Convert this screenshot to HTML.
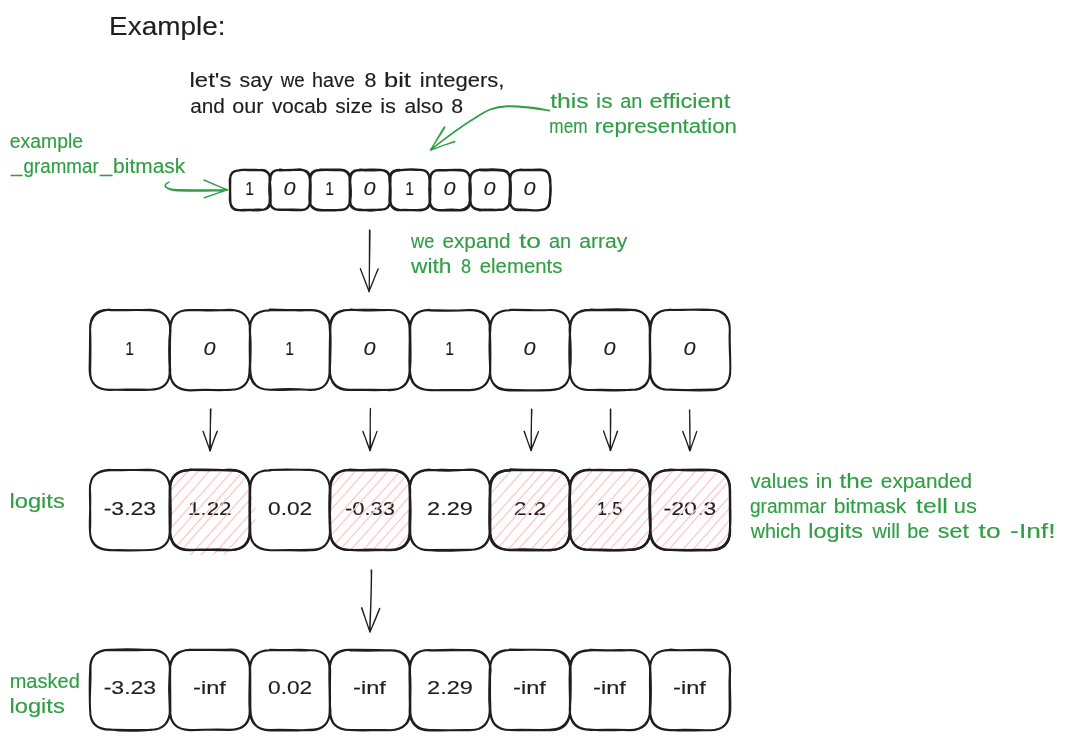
<!DOCTYPE html>
<html><head><meta charset="utf-8"><title>Example</title>
<style>
html,body{margin:0;padding:0;background:#fff;}
body{width:1065px;height:740px;overflow:hidden;}
svg{display:block;will-change:transform;}
text{font-family:"Liberation Sans",sans-serif;stroke-width:0.15px;stroke-linejoin:round;}
</style></head><body>
<svg width="1065" height="740" viewBox="0 0 1065 740">
<rect width="1065" height="740" fill="#ffffff"/>
<defs>
<clipPath id="c1"><path d="M190 470 L230 470 Q250 470 250 490 L250 496 Q255.5 498 255.5 502 L255.5 520 Q255.5 526 250 528 L250 530 Q250 550 230 550 L236 550 Q234 555 230 555 L190 555 Q186 555 184 550 L190 550 Q170 550 170 530 L170 490 Q170 470 190 470 Z"/></clipPath>
<clipPath id="c3"><path d="M350 470 L390 470 Q410 470 410 490 L410 496 Q410 498 410 502 L410 520 Q410 526 410 528 L410 530 Q410 550 390 550 L396 550 Q394 550 390 550 L350 550 Q346 550 344 550 L350 550 Q330 550 330 530 L330 490 Q330 470 350 470 Z"/></clipPath>
<clipPath id="c5"><path d="M510 470 L550 470 Q570 470 570 490 L570 496 Q570 498 570 502 L570 520 Q570 526 570 528 L570 530 Q570 550 550 550 L556 550 Q554 550 550 550 L510 550 Q506 550 504 550 L510 550 Q490 550 490 530 L490 490 Q490 470 510 470 Z"/></clipPath>
<clipPath id="c6"><path d="M590 470 L630 470 Q650 470 650 490 L650 496 Q650 498 650 502 L650 520 Q650 526 650 528 L650 530 Q650 550 630 550 L636 550 Q634 550 630 550 L590 550 Q586 550 584 550 L590 550 Q570 550 570 530 L570 490 Q570 470 590 470 Z"/></clipPath>
<clipPath id="c7"><path d="M670 470 L710 470 Q730 470 730 490 L730 496 Q730 498 730 502 L730 520 Q730 526 730 528 L730 530 Q730 550 710 550 L716 550 Q714 550 710 550 L670 550 Q666 550 664 550 L670 550 Q650 550 650 530 L650 490 Q650 470 670 470 Z"/></clipPath>
</defs>
<text x="109.07" y="35.3" font-size="25.5" fill="#1e1e1e" stroke="#1e1e1e" textLength="116.40" lengthAdjust="spacingAndGlyphs">Example:</text>
<text font-size="19.5" fill="#1e1e1e" stroke="#1e1e1e"><tspan x="189.54" y="87.1" textLength="41.84" lengthAdjust="spacingAndGlyphs">let's</tspan> <tspan x="239.57" y="87.1" textLength="32.95" lengthAdjust="spacingAndGlyphs">say</tspan> <tspan x="280.80" y="87.1" textLength="23.91" lengthAdjust="spacingAndGlyphs">we</tspan> <tspan x="312.12" y="87.1" textLength="42.74" lengthAdjust="spacingAndGlyphs">have</tspan> <tspan x="364.54" y="87.1" textLength="11.94" lengthAdjust="spacingAndGlyphs">8</tspan> <tspan x="384.04" y="87.1" textLength="26.91" lengthAdjust="spacingAndGlyphs">bit</tspan> <tspan x="419.87" y="87.1" textLength="84.52" lengthAdjust="spacingAndGlyphs">integers,</tspan></text>
<text font-size="19.5" fill="#1e1e1e" stroke="#1e1e1e"><tspan x="190.27" y="112.7" textLength="34.65" lengthAdjust="spacingAndGlyphs">and</tspan> <tspan x="232.34" y="112.7" textLength="31.19" lengthAdjust="spacingAndGlyphs">our</tspan> <tspan x="271.90" y="112.7" textLength="55.30" lengthAdjust="spacingAndGlyphs">vocab</tspan> <tspan x="335.38" y="112.7" textLength="37.13" lengthAdjust="spacingAndGlyphs">size</tspan> <tspan x="380.28" y="112.7" textLength="15.72" lengthAdjust="spacingAndGlyphs">is</tspan> <tspan x="404.46" y="112.7" textLength="38.68" lengthAdjust="spacingAndGlyphs">also</tspan> <tspan x="451.35" y="112.7" textLength="11.83" lengthAdjust="spacingAndGlyphs">8</tspan></text>
<text font-size="19.5" fill="#2f9e44" stroke="#2f9e44"><tspan x="550.23" y="107.7" textLength="38.46" lengthAdjust="spacingAndGlyphs">this</tspan> <tspan x="596.12" y="107.7" textLength="16.42" lengthAdjust="spacingAndGlyphs">is</tspan> <tspan x="620.30" y="107.7" textLength="22.14" lengthAdjust="spacingAndGlyphs">an</tspan> <tspan x="649.56" y="107.7" textLength="80.63" lengthAdjust="spacingAndGlyphs">efficient</tspan></text>
<text font-size="19.5" fill="#2f9e44" stroke="#2f9e44"><tspan x="549.36" y="133" textLength="38.13" lengthAdjust="spacingAndGlyphs">mem</tspan> <tspan x="594.65" y="133" textLength="142.35" lengthAdjust="spacingAndGlyphs">representation</tspan></text>
<text x="9.82" y="147.5" font-size="19.5" fill="#2f9e44" stroke="#2f9e44" textLength="73.25" lengthAdjust="spacingAndGlyphs">example</text>
<text font-size="19.5" fill="#2f9e44" stroke="#2f9e44"><tspan x="10.91" y="172.3" textLength="11.31" lengthAdjust="spacingAndGlyphs">_</tspan><tspan x="23.55" y="173.4" textLength="75.15" lengthAdjust="spacingAndGlyphs">grammar</tspan><tspan x="100.13" y="172.3" textLength="12.26" lengthAdjust="spacingAndGlyphs">_</tspan><tspan x="113.14" y="173.4" textLength="72.07" lengthAdjust="spacingAndGlyphs">bitmask</tspan></text>
<text font-size="19.5" fill="#2f9e44" stroke="#2f9e44"><tspan x="411.00" y="248" textLength="23.29" lengthAdjust="spacingAndGlyphs">we</tspan> <tspan x="442.47" y="248" textLength="67.99" lengthAdjust="spacingAndGlyphs">expand</tspan> <tspan x="518.99" y="248" textLength="21.95" lengthAdjust="spacingAndGlyphs">to</tspan> <tspan x="549.00" y="248" textLength="22.14" lengthAdjust="spacingAndGlyphs">an</tspan> <tspan x="579.26" y="248" textLength="48.11" lengthAdjust="spacingAndGlyphs">array</tspan></text>
<text font-size="19.5" fill="#2f9e44" stroke="#2f9e44"><tspan x="411.00" y="272.8" textLength="40.44" lengthAdjust="spacingAndGlyphs">with</tspan> <tspan x="461.08" y="272.8" textLength="10.07" lengthAdjust="spacingAndGlyphs">8</tspan> <tspan x="479.78" y="272.8" textLength="82.68" lengthAdjust="spacingAndGlyphs">elements</tspan></text>
<text x="9.46" y="507.8" font-size="19.5" fill="#2f9e44" stroke="#2f9e44" textLength="55.36" lengthAdjust="spacingAndGlyphs">logits</text>
<text font-size="19.5" fill="#2f9e44" stroke="#2f9e44"><tspan x="750.60" y="487.9" textLength="57.91" lengthAdjust="spacingAndGlyphs">values</tspan> <tspan x="815.72" y="487.9" textLength="16.52" lengthAdjust="spacingAndGlyphs">in</tspan> <tspan x="839.64" y="487.9" textLength="33.74" lengthAdjust="spacingAndGlyphs">the</tspan> <tspan x="880.87" y="487.9" textLength="91.24" lengthAdjust="spacingAndGlyphs">expanded</tspan></text>
<text font-size="19.5" fill="#2f9e44" stroke="#2f9e44"><tspan x="749.94" y="512.9" textLength="76.36" lengthAdjust="spacingAndGlyphs">grammar</tspan> <tspan x="833.73" y="512.9" textLength="72.47" lengthAdjust="spacingAndGlyphs">bitmask</tspan> <tspan x="916.13" y="512.9" textLength="31.66" lengthAdjust="spacingAndGlyphs">tell</tspan> <tspan x="953.88" y="512.9" textLength="23.00" lengthAdjust="spacingAndGlyphs">us</tspan></text>
<text font-size="19.5" fill="#2f9e44" stroke="#2f9e44"><tspan x="750.70" y="538.2" textLength="50.31" lengthAdjust="spacingAndGlyphs">which</tspan> <tspan x="808.38" y="538.2" textLength="54.63" lengthAdjust="spacingAndGlyphs">logits</tspan> <tspan x="872.40" y="538.2" textLength="27.67" lengthAdjust="spacingAndGlyphs">will</tspan> <tspan x="907.31" y="538.2" textLength="22.02" lengthAdjust="spacingAndGlyphs">be</tspan> <tspan x="937.82" y="538.2" textLength="31.09" lengthAdjust="spacingAndGlyphs">set</tspan> <tspan x="978.64" y="538.2" textLength="21.95" lengthAdjust="spacingAndGlyphs">to</tspan> <tspan x="1010.14" y="538.2" textLength="45.35" lengthAdjust="spacingAndGlyphs">-Inf!</tspan></text>
<text x="9.70" y="687.6" font-size="19.5" fill="#2f9e44" stroke="#2f9e44" textLength="70.13" lengthAdjust="spacingAndGlyphs">masked</text>
<text x="9.46" y="712.8" font-size="19.5" fill="#2f9e44" stroke="#2f9e44" textLength="55.36" lengthAdjust="spacingAndGlyphs">logits</text>
<text x="245.13" y="194.6" font-size="19.0" fill="#1e1e1e" stroke="#1e1e1e" textLength="8.69" lengthAdjust="spacingAndGlyphs">1</text>
<text x="283.64" y="194.6" font-size="19.0" fill="#1e1e1e" stroke="#1e1e1e" font-style="italic" textLength="12.00" lengthAdjust="spacingAndGlyphs">0</text>
<text x="325.13" y="194.6" font-size="19.0" fill="#1e1e1e" stroke="#1e1e1e" textLength="8.69" lengthAdjust="spacingAndGlyphs">1</text>
<text x="363.64" y="194.6" font-size="19.0" fill="#1e1e1e" stroke="#1e1e1e" font-style="italic" textLength="12.00" lengthAdjust="spacingAndGlyphs">0</text>
<text x="405.13" y="194.6" font-size="19.0" fill="#1e1e1e" stroke="#1e1e1e" textLength="8.69" lengthAdjust="spacingAndGlyphs">1</text>
<text x="443.64" y="194.6" font-size="19.0" fill="#1e1e1e" stroke="#1e1e1e" font-style="italic" textLength="12.00" lengthAdjust="spacingAndGlyphs">0</text>
<text x="483.64" y="194.6" font-size="19.0" fill="#1e1e1e" stroke="#1e1e1e" font-style="italic" textLength="12.00" lengthAdjust="spacingAndGlyphs">0</text>
<text x="523.64" y="194.6" font-size="19.0" fill="#1e1e1e" stroke="#1e1e1e" font-style="italic" textLength="12.00" lengthAdjust="spacingAndGlyphs">0</text>
<text x="125.13" y="355" font-size="19.0" fill="#1e1e1e" stroke="#1e1e1e" textLength="8.69" lengthAdjust="spacingAndGlyphs">1</text>
<text x="203.64" y="355" font-size="19.0" fill="#1e1e1e" stroke="#1e1e1e" font-style="italic" textLength="12.00" lengthAdjust="spacingAndGlyphs">0</text>
<text x="285.13" y="355" font-size="19.0" fill="#1e1e1e" stroke="#1e1e1e" textLength="8.69" lengthAdjust="spacingAndGlyphs">1</text>
<text x="363.64" y="355" font-size="19.0" fill="#1e1e1e" stroke="#1e1e1e" font-style="italic" textLength="12.00" lengthAdjust="spacingAndGlyphs">0</text>
<text x="445.13" y="355" font-size="19.0" fill="#1e1e1e" stroke="#1e1e1e" textLength="8.69" lengthAdjust="spacingAndGlyphs">1</text>
<text x="523.64" y="355" font-size="19.0" fill="#1e1e1e" stroke="#1e1e1e" font-style="italic" textLength="12.00" lengthAdjust="spacingAndGlyphs">0</text>
<text x="603.64" y="355" font-size="19.0" fill="#1e1e1e" stroke="#1e1e1e" font-style="italic" textLength="12.00" lengthAdjust="spacingAndGlyphs">0</text>
<text x="683.64" y="355" font-size="19.0" fill="#1e1e1e" stroke="#1e1e1e" font-style="italic" textLength="12.00" lengthAdjust="spacingAndGlyphs">0</text>
<text x="103.71" y="514.8" font-size="19.0" fill="#1e1e1e" stroke="#1e1e1e" textLength="52.44" lengthAdjust="spacingAndGlyphs">-3.23</text>
<text x="188.08" y="514.8" font-size="19.0" fill="#1e1e1e" stroke="#1e1e1e" textLength="43.31" lengthAdjust="spacingAndGlyphs">1.22</text>
<text x="268.04" y="514.8" font-size="19.0" fill="#1e1e1e" stroke="#1e1e1e" textLength="44.17" lengthAdjust="spacingAndGlyphs">0.02</text>
<text x="345.02" y="514.8" font-size="19.0" fill="#1e1e1e" stroke="#1e1e1e" textLength="49.84" lengthAdjust="spacingAndGlyphs">-0.33</text>
<text x="427.07" y="514.8" font-size="19.0" fill="#1e1e1e" stroke="#1e1e1e" textLength="45.76" lengthAdjust="spacingAndGlyphs">2.29</text>
<text x="513.84" y="514.8" font-size="19.0" fill="#1e1e1e" stroke="#1e1e1e" textLength="32.33" lengthAdjust="spacingAndGlyphs">2.2</text>
<text x="596.76" y="514.8" font-size="19.0" fill="#1e1e1e" stroke="#1e1e1e" textLength="25.84" lengthAdjust="spacingAndGlyphs">1.5</text>
<text x="663.56" y="514.8" font-size="19.0" fill="#1e1e1e" stroke="#1e1e1e" textLength="52.75" lengthAdjust="spacingAndGlyphs">-20.3</text>
<text x="103.71" y="694.4" font-size="19.0" fill="#1e1e1e" stroke="#1e1e1e" textLength="52.44" lengthAdjust="spacingAndGlyphs">-3.23</text>
<text x="193.04" y="694.4" font-size="19.0" fill="#1e1e1e" stroke="#1e1e1e" textLength="32.84" lengthAdjust="spacingAndGlyphs">-inf</text>
<text x="268.04" y="694.4" font-size="19.0" fill="#1e1e1e" stroke="#1e1e1e" textLength="44.17" lengthAdjust="spacingAndGlyphs">0.02</text>
<text x="353.04" y="694.4" font-size="19.0" fill="#1e1e1e" stroke="#1e1e1e" textLength="32.84" lengthAdjust="spacingAndGlyphs">-inf</text>
<text x="427.07" y="694.4" font-size="19.0" fill="#1e1e1e" stroke="#1e1e1e" textLength="45.76" lengthAdjust="spacingAndGlyphs">2.29</text>
<text x="513.04" y="694.4" font-size="19.0" fill="#1e1e1e" stroke="#1e1e1e" textLength="32.84" lengthAdjust="spacingAndGlyphs">-inf</text>
<text x="593.04" y="694.4" font-size="19.0" fill="#1e1e1e" stroke="#1e1e1e" textLength="32.84" lengthAdjust="spacingAndGlyphs">-inf</text>
<text x="673.04" y="694.4" font-size="19.0" fill="#1e1e1e" stroke="#1e1e1e" textLength="32.84" lengthAdjust="spacingAndGlyphs">-inf</text>
<path d="M-89 570.8C-47.1 522.7 -4.2 476.1 85.2 373.6M-78.2 571.7C-26.3 509.8 28.5 449 96.7 372.3M-65.4 570.1C-8.2 504.9 49.7 438.8 109 374.5M-55.1 570.9C-3.4 514.1 46.3 455 119.2 372.3M-45.3 571.2C6.6 513.1 58.3 457 129.2 373.3M-32.4 570C19.6 508.5 74.8 448.8 140.3 372.6M-22.3 570C19.9 521.8 63.8 473.6 153 373.9M-12.2 571.5C42.2 511.4 95.1 450.4 163.1 372.5M-1.1 569.8C57.3 506 113.5 441.8 173.1 373.1M10.1 570C45.5 529.6 80.7 490.3 186.6 373.3M21.4 570C75.3 512.1 125.1 455.5 196.2 372.6M33.9 571.5C88.2 509.1 141.3 448 207.9 373.5M44.8 571.7C107.4 501.7 169.4 431.4 217.9 373.5M54.9 570C104.3 519.2 151 465.7 231 374.5M65.2 569.9C114.5 518.3 162.7 463.5 240.8 374.1M77.8 571.2C114.5 526.2 153.1 483.8 252.2 374.6M89 569.8C136.5 513.8 187 460.3 262 374.2M99.8 569.7C167.2 493.9 237.9 414.8 275.2 373.3M109.9 570.1C174.4 497.6 239.7 423.4 284 374.4M122.4 570.4C169.7 517 216 463.7 294.7 373.3M132.1 570.5C175.9 523.4 216.2 476.7 307.4 374.1M142.7 571.2C181.7 527.6 220.9 484.9 317.6 373.7M154.8 570.7C207.3 511.9 260.4 452.3 330.4 372.8M164.7 569.7C218.8 507.3 272.7 445.9 340.4 374.1M176.9 569.7C244.4 496.4 309 421.6 350.7 373.4M187.4 570.6C255.8 492.1 325.1 414.9 360.8 373.6M199 570.6C249 515.3 301 458.5 372.2 372.9M209.2 570.4C246.7 530.8 281.4 488.2 385.5 373.6M221.2 570.4C280 505.5 340.6 438.1 394.1 374.3M231.7 570.7C269.4 528.1 304.7 486.6 405.8 372.5M242.7 570.1C285.3 524.9 325.2 478.8 417.2 372.3M254.1 569.8C298.7 521.8 341.4 472.2 428.3 373.4M265.6 571.7C329 499 393.9 426.2 439.4 373.1M276.5 570C312.7 528.9 351.1 489.2 450.7 372.9M286.1 570.4C330.2 522.8 375.2 472.8 460.7 374.5" fill="none" stroke="#ffc9c9" stroke-width="1.3" stroke-linecap="round" clip-path="url(#c1)"/>
<path d="M68.9 571.4C121.6 510.7 174.9 450.2 242 372.3M80.1 570.7C119.4 527 159.1 482 252.5 374.1M90.5 569.5C151.6 501 211 432.1 265.1 372.7M101.1 570.5C161.4 502.6 221.9 433.7 274.8 372.6M112.7 569.4C154.6 521 199.8 472.6 287.4 372.9M122.7 571.5C175.9 512 230.5 449.9 297.9 374.2M133.7 571.6C202.5 493.7 271 415.9 309.9 372.5M146.2 569.9C210.1 498 271.5 425 320.1 373.3M155.9 571.4C201.5 520.2 248.9 467.3 331.8 373.9M167.4 571.8C234.7 495.5 300.6 420.3 341 372.5M177.9 570C243.1 496.6 306.8 426.1 353.9 374.2M189.9 571.1C244.7 505.9 302.5 441.6 364.6 372.9M200.5 570.2C235.7 530.6 273.9 488.1 375.4 372.9M210.8 569.9C267.2 509.9 319.9 449.4 387.3 373.3M222.5 569.6C262.8 525.9 303.3 482.5 397.9 373.2M233.5 569.5C282.6 516.2 331.6 459.3 408.6 374.3M245 570.4C289.2 524 331.5 474.1 418.5 373.9M255 570.3C323.4 496.4 389.4 422 430 372.5M268.5 571.1C308 525.3 347.8 479.3 440.7 374.1M277.9 569.7C319.8 522 363.9 472.1 451.8 373.5M289.7 569.4C344.5 508.6 401.3 446.7 464.8 373.4M301.1 570.1C343.2 520.9 387.8 472 474.5 373.8M311 570.4C379.6 494.9 447 420.3 485.8 372.7M321.7 569.9C392.2 491.7 461.3 414.5 496 372.8M333 570.3C382.2 514.9 431.5 456.8 507.2 373.2M345.5 571.6C409.2 494.5 476.9 421 517.6 373.8M355 569.4C403.7 516.2 453.4 461.3 531.3 372.7M366.6 569.5C413.3 516.1 461.7 462.2 540.9 374.4M378.1 569.5C412.5 528.3 450.5 488.1 552.4 374.4M389.3 570C436.8 516.4 482.4 462.8 564.1 374.4M399.5 570.5C457.2 508.2 512.8 442.1 574.4 373.4M411.5 571.4C479.6 494.2 545.8 417.5 585.1 374.1M421.5 569.5C459.3 527.6 497.7 486.1 597.4 374.6M433.2 571.1C478.2 520.9 522.2 472 608.1 374M444.6 570.1C508 498.2 572.8 425 617.6 372.8" fill="none" stroke="#ffc9c9" stroke-width="1.3" stroke-linecap="round" clip-path="url(#c3)"/>
<path d="M224.7 569.9C265.7 522.5 309.3 474.7 398.3 372.7M234.9 570.3C298.5 501 360 429.1 410.8 373.2M246.2 570.7C291.6 518.8 337.6 469.6 420.8 372.7M258.5 570.4C319.3 503.2 379.8 435.2 431.2 372.3M267.7 570.9C322.1 508.6 375.7 446.8 443.1 374.4M281.2 569.9C317.9 527.3 358.7 482.5 453.5 374.4M291.6 569.8C339 514.9 386.5 461.7 466.1 372.7M301.4 569.7C343.8 523 387.9 473.4 476.3 374M313.4 570.7C348.9 530 384.6 489.7 487.4 373.8M324.4 570.6C374.1 515.2 425.9 457.4 497.8 373.4M334.4 570.4C374.9 526 413.8 482.4 510.4 374.1M345.5 571.7C398.7 511.8 453.5 451.9 521 372.7M358.1 569.8C427 492.5 494.4 413 532.2 372.6M367.6 570.6C436.1 494.4 500.7 420.4 542.4 372.3M379.9 571.5C420.7 523.7 461.8 476.5 554.2 373.1M391.5 569.6C457 496.9 520.9 423.4 564.4 374.6M400.9 569.8C457 506.7 512.2 445 575.8 374.6M411 569.5C466.3 508.7 522.3 445.9 587.6 372.5M422 570.2C464.7 522.8 507.8 475 597.8 372.7M435.3 570C490.1 506.3 548 444.2 609.4 373.2M446 570.2C491.5 520.3 536.3 471.1 619.7 374.4M456 569.5C493.7 528.4 529.5 489.5 630.2 372.7M468.7 569.8C523.6 506.4 579 444.4 643 373.9M478.5 571.2C512.8 529.7 547 490.1 651.9 373M490.5 570C550.7 500.7 612.3 431.9 663.9 373.8M499.6 570C569.3 492.9 639.6 415.4 674.8 374.3M512 571C559 518.5 604.9 465.8 686.6 374.3M522.6 569.9C573 512.7 623.8 456.2 696.4 372.5M533.1 569.5C602.4 495.6 669.7 419.8 707.6 373.6M545.6 569.5C592.4 517.1 640.2 461.4 718.4 372.5M556.4 571.4C591.7 528.6 626.5 487.4 731.2 372.7M566.6 570.1C613.9 519.2 659 468.7 741.6 374.3M577.8 571.2C635.1 507.4 692 442.5 753.2 372.4M588.4 571.2C654.5 498.7 716.8 428.1 764.2 372.7M599.4 571.6C652 510.3 705.1 452 773.5 373.7" fill="none" stroke="#ffc9c9" stroke-width="1.3" stroke-linecap="round" clip-path="url(#c5)"/>
<path d="M303.9 570.1C355.2 514.3 404.9 455 478.5 373M315.4 571.7C370.6 510 424.3 449.9 490.3 374.6M326.4 570.9C388.3 499.2 451.6 428 501.4 374.1M338.2 569.7C397.6 503.3 457 437.7 512.5 373.6M349.8 571.5C411.1 502.7 472.3 433.6 524 373.3M359.9 571.3C406.1 520 450.8 467.7 534.4 373.7M370.4 571C420.6 513.8 469.1 459.7 544.5 373.5M382.3 569.6C422.2 524 463.1 478.1 557 374.2M392.9 571C446.6 510.3 499.1 450.8 567.7 372.4M403.9 570.4C449.3 521 492.7 470.4 579.1 374.5M415.4 569.9C468.8 510.4 523.7 449.8 590.1 373.6M426.5 571.3C468.6 522.5 510.1 474.3 599.7 374.2M437 570C483.6 516.9 529.8 464.8 611.2 372.8M448.7 571C493.6 520.4 540.1 467 623.6 374.4M460.2 569.4C521.8 500.6 585.6 428.6 633.4 372.6M469.9 571.5C513.8 521.5 557 473.9 645.8 373.8M480.9 571C547.1 495.8 613 421.4 656.2 372.9M492 570.5C536.1 521.9 580 473.4 668.4 372.2M504 571.4C567.6 497.7 633.3 424.3 678.4 373.7M515.9 570.2C551.6 529.7 586.3 490 688.2 373.9M525.6 570.5C583.1 506.4 639 441.5 700.2 373.6M536.9 570.6C600.8 497.9 666.2 426.2 712.3 373M548.5 571.3C593.5 519 641.5 466.6 721.6 372.9M559.4 571C595.7 531 630.4 490.6 733.9 373.9M570.4 570.5C625.9 507.3 680.2 444.2 745.1 374.4M581.8 570.7C638.6 504.1 696.7 438.9 755.3 373.8M590.9 569.7C661.3 494.4 729 417.8 765.3 373.1M603.5 570.4C657.1 507.1 712.9 443.2 776.8 372.2M613.5 571.5C673.2 502.1 733.3 436.2 789.4 372.7M626.4 571.1C660.5 529 698.7 487.2 801 372.8M635 570.9C705 493.1 772.3 417.2 809.8 374.3M647.6 570.4C700.8 511.4 752.9 453.3 822.2 373.7M659.8 571.3C708.6 513.6 756.9 459.3 833.6 374.2M670.4 570.8C715.4 516.9 763.3 464.2 844.5 373.7M679.2 570C745.6 496.5 812.7 422.4 853.7 374.2" fill="none" stroke="#ffc9c9" stroke-width="1.3" stroke-linecap="round" clip-path="url(#c6)"/>
<path d="M386.3 570.7C428.8 523.2 469.8 475 562.3 373.1M396.9 570.8C435.6 526.4 473.5 481.6 573.3 374.3M409.3 570.4C461.3 513.1 512.9 455 582.4 372.3M418.3 570.7C463 524 505.1 477.7 592.8 373.7M430.3 570.7C480.9 515.6 529.7 459.2 605.2 372.6M440.8 570C509 494.6 578.9 416.9 615.2 374.1M451.8 569.7C512.8 503.2 572.2 434.3 627.5 374M463.2 570.5C502.3 526.9 540.8 484.3 637.3 373.9M474.1 571.6C518.4 523.5 558.3 475.3 648.2 374.4M485.2 571.4C549.5 498.3 613 424.7 659 373.9M496.4 570.4C551.2 508 607 446.9 670.6 373.4M509.3 569.5C554.2 519.8 598.5 467.4 682.1 372.8M520 571.6C560.1 521.7 603.9 473.7 693.8 372.9M529.9 569.7C599.2 492.7 669.5 413.1 704.5 374.4M540.7 571.2C584.3 522.6 625.3 474.3 716.1 373.4M552.5 571.3C597.3 519.4 640.5 470.4 726.2 374M564.1 571.5C599.4 528.1 637.2 487.6 738.6 372.9M573.6 570.3C615.2 522.9 656.4 477.2 748.9 372.5M584.9 571.1C644.1 502.8 703.1 435.5 760.8 373.4M595 571.7C648.2 510.1 700.7 450.6 771.4 372.3M606.1 570.8C645.2 528 683.8 483.8 782.6 373.9M618.7 570.1C655.1 529.2 691.6 488.4 794 372.6M630.5 571.6C683.8 509.1 739.7 447.3 803.9 374.5M640.2 570.4C704.1 501.8 765.9 431.7 815.8 372.3M650.7 570.4C703.5 509.5 756.2 449 825.6 373.4M663.6 571.6C699.7 530.1 735.9 490 836.2 373.8M674 571.6C718 520.5 761.9 471.1 849.4 372.9M684.8 571.7C729.8 519.3 775.2 468.5 858.2 372.5M695.4 570C734.9 526.3 776.1 481.8 870.5 373.8M707.3 570.9C748.5 522.8 789.9 475.3 881.6 373.1M719.1 570C774.8 508.3 829.5 447 892.1 374.1M728.9 569.5C770.2 524 811.4 477.5 902.8 374.5M739.7 571C801.8 503.2 862.9 433.8 915 374M751.6 571.6C811.7 501.5 872.8 431.8 925.8 373.4M762.6 571.5C830.5 493.1 898.6 415.9 936.9 372.9" fill="none" stroke="#ffc9c9" stroke-width="1.3" stroke-linecap="round" clip-path="url(#c7)"/>
<path d="M239.9 170.1C246.5 169.5 253.5 170.8 260.3 170Q269.9 169.4 269.8 179.6C269.8 187.3 271.1 192.7 270.4 199.8Q270.7 210.7 260.5 209.7C253.3 208.9 246.7 211.3 239.5 210.1Q230 210.8 230.3 200C230 191 230 189 230.2 179.9Q229.7 170.2 239.9 170.4M240.1 170C245.4 169.8 254.6 169.8 260 170Q270.5 170.6 270 180C269.1 187.5 270.3 192.5 270 200.2Q269.6 209.8 260.3 210.2C252.9 210.7 247.1 209.3 240.1 210.2Q230.6 210.5 229.9 199.8C230 193.8 230 186.2 229.8 179.8Q230.2 170.1 239.9 170.3" fill="none" stroke="#1e1e1e" stroke-width="2.25" stroke-linecap="round" stroke-linejoin="round"/>
<path d="M280.1 169.5C286.6 170.8 293.4 169.5 300.2 169.5Q309.6 170.7 310.1 180.2C310 185.8 309.9 194.2 309.8 200.1Q310.1 211 300.1 209.9C294.5 210.9 285.5 209.3 279.6 209.6Q269.3 210 270.3 200.1C268.8 191.8 268.7 188.2 270.3 179.8Q270.4 169.7 279.7 169.8M279.7 170.3C287.3 169.7 292.7 169.9 299.9 169.7Q310.5 170.1 310.3 180C310.4 187.5 310.8 192.5 310.3 200.2Q309.8 210.5 300.2 209.9C292.6 209.2 287.4 210 280.3 209.8Q269.9 210.3 269.8 199.9C270 191.5 270.5 188.5 269.8 179.8Q269.8 169.6 280.3 169.9" fill="none" stroke="#1e1e1e" stroke-width="2.25" stroke-linecap="round" stroke-linejoin="round"/>
<path d="M320.1 169.6C327.1 169.7 332.9 169.7 339.6 169.6Q350.7 169.7 349.7 179.7C350.7 186.1 351.3 193.9 350.2 199.8Q349.3 210.4 339.6 209.8C331.7 211 328.3 210.2 320.3 210.3Q309.3 209.7 310.2 199.9C309.2 191.2 311.2 188.8 310 179.7Q309.9 169.3 320.2 169.8M320.3 170.1C326.5 169.6 333.5 170.2 339.8 170.2Q349.5 170 350 179.9C350.2 188.1 349.7 191.9 350 199.9Q349.9 209.5 339.8 210.2C333.7 209.7 326.3 210.7 320 209.9Q310 209.7 309.7 199.9C309.3 194.1 310.4 185.9 309.9 179.9Q310.5 170.4 320.2 170.2" fill="none" stroke="#1e1e1e" stroke-width="2.25" stroke-linecap="round" stroke-linejoin="round"/>
<path d="M359.6 169.8C365.1 170.5 374.9 170.4 379.9 169.9Q390.3 170.4 389.7 180.3C389.6 186.4 390.9 193.6 389.6 200.4Q390.5 210.4 379.5 209.5C374.4 210.8 365.6 210.5 359.9 209.5Q349.6 210.3 349.7 200.3C350.6 192.7 349.3 187.3 349.9 180.2Q349.7 169 360.3 170.3M359.9 169.7C368.4 170.2 371.6 169.2 379.8 169.8Q390.4 169.6 390.3 180.2C389.7 185.3 390.2 194.7 390.2 200.2Q389.7 209.5 380.3 210C371.3 209.7 368.7 209.6 360.2 210.1Q349.9 209.4 350.1 200C350.8 193 349.3 187 350.2 179.7Q350.3 170.4 359.8 170" fill="none" stroke="#1e1e1e" stroke-width="2.25" stroke-linecap="round" stroke-linejoin="round"/>
<path d="M400.5 170.1C407.2 169.3 412.8 168.8 419.9 169.9Q429.4 169.6 429.6 180.2C430.7 187.7 430.7 192.3 430 199.9Q430.9 209.7 419.8 210.4C414.4 209.8 405.6 210.5 400.3 210Q390.5 209.3 390.2 200.1C390.7 193.2 390.9 186.8 389.6 179.8Q389.7 169.4 399.6 169.8M399.8 170.1C406.8 169.3 413.2 169.7 420 169.9Q429.6 169.5 429.7 180.3C430.7 188 429.6 192 430.3 200Q429.5 210 420 209.8C412.8 210.9 407.2 209.3 400.1 210.1Q390.6 210.2 389.8 199.8C389.2 194.4 390.5 185.6 390.2 179.9Q389.6 170.2 400.2 170.3" fill="none" stroke="#1e1e1e" stroke-width="2.25" stroke-linecap="round" stroke-linejoin="round"/>
<path d="M439.7 170.3C448.3 170.7 451.7 169.5 459.7 170.3Q469.6 169.7 470.1 179.9C470.7 188.3 471.3 191.7 470.1 200.1Q470.6 210.4 460.4 210.4C453 210 447 210.9 439.8 210.1Q429.2 210.4 429.7 199.9C428.9 191.1 428.7 188.9 429.9 179.7Q430.4 169 440.3 170.4M440.2 170C446.1 170.3 453.9 170 459.9 169.9Q469.9 170.2 470.2 180.3C470.4 185.7 470.1 194.3 470 199.9Q469.6 209.5 459.9 210C451.1 209.3 448.9 209.4 440.3 210.3Q430.2 210.4 429.7 200.1C429.6 192.6 430.1 187.4 430.3 180Q430.2 169.7 439.9 170.2" fill="none" stroke="#1e1e1e" stroke-width="2.25" stroke-linecap="round" stroke-linejoin="round"/>
<path d="M479.5 169.7C487.7 169.9 492.3 168.9 500.2 169.9Q510.2 169.8 510 180.1C511.1 186.6 510.9 193.4 510.4 200Q509.2 210.7 499.8 209.6C492.9 210.7 487.1 210 480.1 209.7Q470.1 209.2 470 200.1C469.7 194.7 468.8 185.3 469.9 180.4Q470.1 170.4 480.3 169.6M480.3 170.1C485.4 170.6 494.6 169.8 499.8 170.3Q510.1 170.4 509.8 180.2C510.5 185.2 510.2 194.8 509.7 200.1Q509.6 209.7 500.1 210C491.4 209.8 488.6 209.3 480 210.3Q470.5 209.6 470.2 199.9C470.3 191.9 470.6 188.1 469.8 179.9Q470.3 170.6 480.1 169.7" fill="none" stroke="#1e1e1e" stroke-width="2.25" stroke-linecap="round" stroke-linejoin="round"/>
<path d="M520.1 169.6C527.2 170.8 532.8 168.9 540.4 170.2Q549.5 169.4 549.9 180.3C551.1 187.3 551.3 192.7 549.6 200.3Q549.4 210.1 539.8 210.2C533.5 211 526.5 209 520 210.2Q510.6 210.9 509.5 199.8C510 194.4 511 185.6 510.3 179.5Q509.4 170.6 520.2 169.9M520 169.8C528.4 169.8 531.6 170.7 540.1 169.7Q549.8 169.6 550.3 180.1C550.6 185.2 550.2 194.8 550 200Q549.9 209.8 539.7 210.1C533.7 210.8 526.3 210.1 520.3 209.7Q509.5 210.2 509.9 199.9C509.6 193 510.1 187 510 180.3Q510.6 169.4 520 170.2" fill="none" stroke="#1e1e1e" stroke-width="2.25" stroke-linecap="round" stroke-linejoin="round"/>
<path d="M110.4 310.3C125.1 310.4 134.9 309.6 149.8 310.3Q170.7 310.9 170.2 329.8C169.3 346.1 170 353.9 170.1 369.9Q170.1 389.8 149.6 389.8C137.4 388.7 122.6 390.1 109.9 389.7Q89.5 389.7 89.6 369.5C89.9 353 89.9 347 90.1 329.8Q89.3 309.1 109.8 309.8M110.1 310C127.5 309.7 132.5 310.7 150.1 309.7Q169.6 310.1 170.3 329.9C170.1 346.2 169.4 353.8 169.7 370Q170.5 389.7 149.8 389.7C138.7 390.4 121.3 389.6 109.8 389.9Q89.6 390.1 90.2 370.1C90.4 358.4 90.8 341.6 90.1 329.7Q90.4 310.5 109.9 309.8" fill="none" stroke="#1e1e1e" stroke-width="2.0" stroke-linecap="round" stroke-linejoin="round"/>
<path d="M189.7 310C207 310.4 213 311.2 229.7 309.8Q250.5 310.3 249.9 330.2C251.2 342.7 250.2 357.3 249.5 370.1Q249.7 390 230.1 389.8C216.3 391.3 203.7 388.8 190.1 390.5Q169.1 390.2 170.2 369.8C169.1 359.3 169 340.7 170.3 329.6Q170.6 309.8 190 310.1M190 310.1C204.8 309.7 215.2 310.4 229.8 310.1Q250.3 310.4 249.9 330.2C250.1 347.8 250.4 352.2 250 370.3Q249.5 389.4 230 390.1C213.8 390.2 206.2 389.1 189.8 390.2Q169.5 389.4 169.8 369.7C170.1 356 169.4 344 170.3 329.9Q169.6 309.6 190.2 310.3" fill="none" stroke="#1e1e1e" stroke-width="2.0" stroke-linecap="round" stroke-linejoin="round"/>
<path d="M269.7 309.5C286.2 309.3 293.8 311.3 310 310.1Q329.7 310.6 330 329.8C331.1 347.2 329.4 352.8 329.6 370.1Q329.8 390.7 309.6 390.1C296.7 388.8 283.3 388.8 270.1 389.7Q249.5 389.5 249.9 369.7C250.7 358.4 250.4 341.6 249.8 330.5Q249.4 310.1 269.7 310.4M270.2 309.9C286 310.6 294 309.6 309.9 310Q330.5 309.6 330.1 330.1C329.9 343.6 329.3 356.4 329.8 370.2Q329.8 390.4 310.2 389.8C293.1 389.1 286.9 390.4 269.7 389.8Q250.6 389.4 250.3 369.8C249.3 354.1 249.4 345.9 250.1 329.7Q249.8 310.5 270.1 310.2" fill="none" stroke="#1e1e1e" stroke-width="2.0" stroke-linecap="round" stroke-linejoin="round"/>
<path d="M350.5 309.5C361.9 310.8 378.1 310.5 389.5 310Q409.5 309.9 409.6 329.5C410.5 347.9 409 352.1 409.6 370Q409.3 389.9 389.7 390.2C378.8 389.3 361.2 390 349.6 389.9Q330 390.8 329.8 369.7C331.1 352.3 330.6 347.7 329.8 329.7Q329.5 309.1 349.5 310M349.9 310C362.9 309.1 377.1 310.3 390.1 310Q410.1 310.2 410.3 330.2C410.2 345.7 410.3 354.3 409.9 370.3Q409.9 389.9 389.9 389.8C372 390.9 368 389.8 350.3 389.8Q330.1 389.8 329.8 369.8C330.6 359.1 330.5 340.9 330.3 329.7Q330.2 309.8 350.1 310" fill="none" stroke="#1e1e1e" stroke-width="2.0" stroke-linecap="round" stroke-linejoin="round"/>
<path d="M429.8 310.5C440 310.7 460 311 470 310.1Q491 309.5 490.1 330.2C489.4 343 490.3 357 490 370.1Q490.4 389.6 470.1 390C458.2 389.7 441.8 390.6 430.4 390Q410.4 390 410 369.7C411.2 358.9 410.1 341.1 410 330Q410.6 309.5 429.7 310.3M430 310.1C446.6 310.7 453.4 310.6 469.7 309.9Q490.4 310.4 489.8 329.8C490.7 342 490.3 358 490.2 370Q489.9 389.5 469.9 390.3C454.4 390.1 445.6 390 430.2 390.2Q409.6 390.2 409.9 370C409.8 358.1 409.7 341.9 409.9 329.7Q409.6 310.1 429.7 309.8" fill="none" stroke="#1e1e1e" stroke-width="2.0" stroke-linecap="round" stroke-linejoin="round"/>
<path d="M510.2 309.8C522.6 309.3 537.4 310.9 549.6 310.1Q570.7 309.4 569.9 330.3C570.4 344.9 571.3 355.1 569.9 369.9Q570.4 389.6 549.9 390.1C533.5 390.4 526.5 390.3 510.1 390.4Q489.4 390.9 490.2 369.9C489.5 354.7 488.8 345.3 490.3 329.9Q490.1 310 510.4 310.3M509.7 310.1C523.7 309.9 536.3 310.6 549.9 310Q570.5 309.9 570 330C569.7 346.6 569.6 353.4 569.9 369.7Q570.2 390.1 550.2 390.2C539.1 390.5 520.9 390.7 510.2 389.7Q489.5 390.3 490 369.7C490.4 354.6 490 345.4 489.7 330.1Q489.9 310.1 510.3 310.2" fill="none" stroke="#1e1e1e" stroke-width="2.0" stroke-linecap="round" stroke-linejoin="round"/>
<path d="M590.4 309.6C602.7 310.1 617.3 308.6 630.5 309.8Q649.5 309.6 649.8 330.4C650 344.4 650.2 355.6 649.6 369.8Q650.7 390.6 630.4 389.8C618.4 391.2 601.6 389.9 589.9 390Q570 390.2 569.9 370.3C571.2 358.4 570.2 341.6 569.6 329.8Q570.1 309.8 590.1 309.8M589.9 310.2C602.3 310.4 617.7 310.5 630.1 310Q650.6 309.9 650.2 329.7C649.8 343.5 650.8 356.5 650.2 369.7Q650.1 389.6 630.3 390C613.6 390 606.4 389.7 590.1 389.9Q569.6 390.4 569.8 370.3C569.3 358.3 569.3 341.7 570.2 330.3Q569.9 310.2 589.8 310.3" fill="none" stroke="#1e1e1e" stroke-width="2.0" stroke-linecap="round" stroke-linejoin="round"/>
<path d="M670.2 309.7C680.5 310.5 699.5 308.7 710.3 309.8Q729.5 310.2 729.8 330.1C728.9 341.2 730.5 358.8 730.3 369.7Q730.6 391 709.9 389.5C697 389.6 683 390.8 670 389.6Q649.9 390.5 649.9 370.2C650.9 359.1 649 340.9 650.4 330.5Q650.9 310.1 669.8 309.8M670.2 310C687.4 309.3 692.6 310 710.2 310.1Q730.1 309.5 729.8 329.9C729.4 347.1 730.5 352.9 730.3 369.7Q730.1 390.6 709.9 390.3C694.7 390.8 685.3 390.3 670 389.8Q650.3 389.6 650.2 369.9C650.1 359.4 649.3 340.6 650 330.2Q650.1 310 669.7 310" fill="none" stroke="#1e1e1e" stroke-width="2.0" stroke-linecap="round" stroke-linejoin="round"/>
<path d="M109.6 470.1C121.1 470.2 138.9 469.6 149.9 470.2Q169.3 469.3 170.4 489.8C169 506.7 170.1 513.3 169.6 529.6Q170.8 549.2 150 550C139.1 550.1 120.9 550.9 110 550Q89.7 549.4 89.9 529.7C89.3 519 91 501 90 490.4Q89 470.9 110 470.3M110 470.1C121.8 470.4 138.2 469.4 149.8 469.7Q169.9 470 169.9 490.2C169.9 500.7 170.5 519.3 170.1 530.2Q170.3 549.4 149.8 550.1C132.1 550.8 127.9 549.8 110.1 550.2Q89.8 550.4 90 530.3C90.8 519.9 89.8 500.1 89.9 489.7Q89.7 470.3 110.1 469.8" fill="none" stroke="#1e1e1e" stroke-width="2.0" stroke-linecap="round" stroke-linejoin="round"/>
<path d="M189.8 469.6C201.6 469.2 218.4 469.5 230.5 470.5Q250.6 470 250 490.3C249.3 507.3 249.6 512.7 249.7 530.1Q250.7 550.6 229.6 550.2C217.2 550.9 202.8 548.7 190.2 550.2Q169.3 550.7 170.4 530.4C170.9 514 170.8 506 170.1 489.9Q170.7 470.6 190.4 469.8M190.3 470C207.6 469.3 212.4 470.8 230.2 469.8Q250.4 469.7 249.8 490C250 501.9 249.3 518.1 250.1 530.1Q249.9 550.4 230.2 550.1C212.5 549.4 207.5 550.2 189.7 550.1Q170.4 549.8 170.1 530.2C169.1 513.7 170 506.3 169.7 489.8Q170.4 469.9 190.1 470" fill="none" stroke="#1e1e1e" stroke-width="2.0" stroke-linecap="round" stroke-linejoin="round"/>
<path d="M189.9 469.8C202.8 470.8 217.2 470.3 229.8 469.7Q249.6 470.3 250 490.1C250.8 506.5 249.6 513.5 249.6 530.3Q249.5 549.6 230.4 549.9C218.2 549.1 201.8 549.8 190.3 549.9Q170 550.7 170 530.4C170.7 518.5 169.3 501.5 170 489.6Q169.5 470.7 190 470.2M189.9 469.9C200.8 470.1 219.2 470.5 230 469.9Q250.4 470.4 250.1 489.8C250.1 505 249.4 515 249.9 530.1Q250.1 549.9 230 550.1C212.7 550 207.3 550.2 190.2 549.8Q170.3 550.2 170 530C170.6 514 170.3 506 170.1 489.8Q169.8 469.6 190.2 470.2" fill="none" stroke="#1e1e1e" stroke-width="2.0" stroke-linecap="round" stroke-linejoin="round"/>
<path d="M269.6 470.1C284.6 468.8 295.4 469.7 310.2 470.1Q329.6 470.5 329.8 490C328.7 503.4 329.6 516.6 330.3 530.2Q329.8 550.9 310.2 550.2C297.8 550.9 282.2 549.8 270.3 550.3Q249.7 549.3 250 530.4C250.7 518.7 249.1 501.3 249.8 489.6Q249.6 469.8 270.5 470.5M269.8 469.9C287.5 469.5 292.5 469.7 310 469.7Q329.7 469.9 329.9 490.3C330.5 502.1 329.3 517.9 330 530.2Q330.2 550.4 309.9 549.8C293.9 550.1 286.1 549.9 270.1 550.2Q249.7 549.8 250.3 530C250.2 517.7 249.6 502.3 250.2 489.7Q250.4 470.1 269.9 470.3" fill="none" stroke="#1e1e1e" stroke-width="2.0" stroke-linecap="round" stroke-linejoin="round"/>
<path d="M349.8 469.7C360.6 470.1 379.4 470.7 390.2 469.9Q410.6 469.2 409.8 490.1C409.6 507.7 409.5 512.3 410.3 529.9Q410.9 550.5 389.8 549.9C373.6 550.4 366.4 550.9 350.4 550Q330 550.3 330.4 529.6C328.8 517.3 329.8 502.7 330 490.4Q330.3 470.2 349.9 470.1M349.9 470.2C366.3 470.6 373.7 469.4 390.1 470.2Q410 470.5 410.3 490.2C409.7 506.6 409.3 513.4 409.8 530.1Q410.3 550.1 389.9 549.7C375.2 549.4 364.8 550.4 349.8 549.8Q329.5 550.2 330.3 530.2C330.4 517.1 329.2 502.9 330.2 489.9Q329.4 470.2 349.8 469.9" fill="none" stroke="#1e1e1e" stroke-width="2.0" stroke-linecap="round" stroke-linejoin="round"/>
<path d="M349.6 470C364.4 470.7 375.6 469 390.3 469.7Q409.6 470.2 409.9 489.9C410.6 504.5 409.4 515.5 409.8 530.3Q410.5 550.1 389.6 550.2C379.8 550 360.2 550.2 349.7 550.1Q330.4 550.1 329.9 530C329.4 515.3 330.8 504.7 330.4 490.2Q330.7 469.7 350.4 469.7M350 469.8C363.6 470.3 376.4 470.3 390 469.9Q409.7 469.9 409.9 489.8C410 505.9 410.1 514.1 409.8 530.1Q409.7 549.8 390 550.1C372.2 549.7 367.8 549.4 350.2 550.1Q330.2 549.6 329.8 529.8C330.3 513.1 330.2 506.9 329.9 489.9Q329.7 470.1 350.3 469.9" fill="none" stroke="#1e1e1e" stroke-width="2.0" stroke-linecap="round" stroke-linejoin="round"/>
<path d="M429.5 469.7C442.8 471.1 457.2 470.8 470 469.6Q489.2 469.3 490.3 490C488.9 507.9 489.2 512.1 490 530.3Q489.3 549.2 470.1 550C458.3 550.7 441.7 551.3 430.4 550.2Q410.9 551 409.9 530.2C410.9 516.9 410.9 503.1 409.6 489.5Q409.4 470.2 429.9 469.5M430.2 470.2C443.7 469.2 456.3 470.7 470 469.7Q489.8 470.2 490.2 490C490.5 505.1 490.5 514.9 490.3 529.9Q489.5 550.1 469.8 549.8C456.3 549.8 443.7 549.8 430.1 550Q409.4 550.3 409.7 530C410.3 516.8 410.4 503.2 409.8 490.1Q410.2 470 429.8 470.3" fill="none" stroke="#1e1e1e" stroke-width="2.0" stroke-linecap="round" stroke-linejoin="round"/>
<path d="M510.1 469.6C521.9 471.3 538.1 469.3 549.9 470.3Q570.6 470.3 570.2 489.5C568.7 500.8 569.2 519.2 569.5 529.5Q569.5 550.9 549.7 550.2C532.6 549.6 527.4 548.8 509.8 549.7Q489 550.5 489.6 530.5C489.1 514.3 490.8 505.7 489.7 490Q489.2 470.6 510.4 470.4M509.7 470.2C524.4 470.6 535.6 470 550.1 470.1Q570.4 469.5 569.7 490C570.2 502.3 570.9 517.7 570.2 529.7Q570.4 550.4 550 549.8C534.8 550.5 525.2 550.1 509.8 550.3Q490.1 549.8 489.7 530.1C490.6 513.2 489.3 506.8 489.9 489.9Q490.3 469.5 510.1 470.3" fill="none" stroke="#1e1e1e" stroke-width="2.0" stroke-linecap="round" stroke-linejoin="round"/>
<path d="M510.2 469.6C520.6 469.2 539.4 470.4 550.1 470Q569.9 469.9 570.1 490.1C569.5 507.3 569.3 512.7 570.3 530.3Q570.3 549.2 550.1 550.3C536.6 549.2 523.4 550.7 510.4 550Q490.3 549.6 489.8 529.9C489.1 517.4 489.9 502.6 490.4 490.1Q490.7 470.4 510.3 470.4M510.1 469.9C522 469.9 538 469.3 549.9 470.2Q570.4 469.8 570.1 490.1C569.6 507.1 570 512.9 569.8 530.2Q569.8 550.1 549.9 550C532.3 550.5 527.7 550 510.1 550Q490.4 549.9 490.2 530.1C489.4 512.3 489.6 507.7 489.9 490.2Q489.5 469.8 510.1 470.3" fill="none" stroke="#1e1e1e" stroke-width="2.0" stroke-linecap="round" stroke-linejoin="round"/>
<path d="M589.7 469.9C605.5 470.5 614.5 470.7 630.3 469.7Q649.5 469.1 650.2 489.7C648.7 502.1 649.6 517.9 650.1 530.2Q650.2 550.4 629.8 549.6C619.5 551.3 600.5 550.4 589.6 549.6Q570 550.9 570.2 529.8C569.1 513.8 568.9 506.2 569.8 489.9Q570.4 469.9 590.2 469.6M590.3 469.9C606.7 469.2 613.3 470.6 629.8 470.2Q650.4 470.2 649.9 489.7C649.3 501.5 650.6 518.5 650.1 530.1Q650.2 549.6 629.8 549.7C612.1 550.2 607.9 549.7 590 549.8Q569.4 549.4 570.2 529.8C569.8 512.3 570.4 507.7 569.8 490.2Q569.7 469.8 590 469.8" fill="none" stroke="#1e1e1e" stroke-width="2.0" stroke-linecap="round" stroke-linejoin="round"/>
<path d="M589.8 470.2C602.3 469.7 617.7 470.6 629.8 469.8Q649.6 469.8 649.9 490.1C649.2 503.8 651 516.2 650.1 530.3Q649.6 549.2 630 549.7C616.3 549.5 603.7 550.9 589.7 550Q569.5 549.6 570 529.7C569.7 519.5 569.9 500.5 570.3 490Q569.3 469.6 590.2 470.1M590.2 470.2C606.9 469.5 613.1 470.6 630 469.9Q649.7 470.4 649.9 489.8C649.4 502.1 650.1 517.9 650.1 529.8Q650 549.8 629.8 550.1C617.1 550.5 602.9 549.3 590 549.8Q569.5 550.2 570 529.8C570.3 516.2 570.1 503.8 569.9 490Q570.1 470.2 589.8 470.2" fill="none" stroke="#1e1e1e" stroke-width="2.0" stroke-linecap="round" stroke-linejoin="round"/>
<path d="M670.4 470.2C686.9 469.6 693.1 471.1 709.7 469.7Q730.2 470.8 729.6 489.7C730.2 500.3 731 519.7 729.7 530.2Q730.2 550.9 709.9 550.2C699.9 548.8 680.1 550.7 670 550Q650.9 550 650.5 530.1C650.9 518.3 649.2 501.7 650.5 490Q649.5 470.9 669.8 469.9M669.9 470.1C680.2 469.8 699.8 469.4 710.2 469.7Q730.1 469.7 730 490C730.6 505.7 730.5 514.3 729.8 530.3Q729.6 549.5 710 550.1C692.9 550.8 687.1 550.5 669.8 550.1Q649.9 549.9 650.2 530.1C650.8 513.1 649.6 506.9 650.3 489.9Q649.4 470.5 669.7 469.7" fill="none" stroke="#1e1e1e" stroke-width="2.0" stroke-linecap="round" stroke-linejoin="round"/>
<path d="M669.8 469.8C687.7 470.8 692.3 469.8 710 470.3Q730.5 470.2 730 489.7C729.7 501.9 729.8 518.1 730.2 530.3Q730.7 549.5 709.7 550.3C695.4 550.7 684.6 549.6 669.8 549.8Q649.8 550 650.1 529.7C650.3 514.1 649.9 505.9 650.1 490.2Q649.2 470 670.1 470.2M670.1 469.8C687.7 470.4 692.3 469.6 710 470.2Q729.7 469.9 730.2 490.2C729.7 501.9 730.2 518.1 730.1 530.1Q729.6 549.7 709.9 549.9C699.7 550.5 680.3 550.1 670 549.8Q650.1 550.5 650 529.9C649.9 514.4 649.5 505.6 650 489.8Q650.2 469.7 669.9 470.2" fill="none" stroke="#1e1e1e" stroke-width="2.0" stroke-linecap="round" stroke-linejoin="round"/>
<path d="M110.3 650.3C125.1 650.4 134.9 650.6 150.5 649.7Q170.5 649.6 169.8 670.3C169 684.8 169 695.2 170.1 709.7Q169 730.1 150.2 729.8C139.4 731.4 120.6 730.9 110.2 729.5Q89.5 729.5 90.2 710.5C88.9 699.8 91.2 680.2 90.5 669.6Q89.7 650 109.8 649.9M110 649.8C120.4 649.3 139.6 649.4 149.7 650.1Q170.3 649.7 170.2 670.1C170 682.7 170.5 697.3 170.3 710Q169.4 729.6 150.1 729.9C134.3 730.5 125.7 729.5 110.2 729.7Q90.1 729.6 90.1 710.2C89.5 693.7 89.3 686.3 90.1 670Q89.5 649.6 110.1 649.7" fill="none" stroke="#1e1e1e" stroke-width="2.0" stroke-linecap="round" stroke-linejoin="round"/>
<path d="M190.1 649.7C202.1 649.8 217.9 650.1 230.2 649.5Q250.4 649.4 249.8 670.1C249.7 685.5 248.9 694.5 249.7 709.8Q250.3 729.5 229.7 729.7C213.8 729.1 206.2 729.4 190.5 730.3Q169.6 729.6 170.2 709.6C168.9 695.1 168.8 684.9 170 669.7Q170.9 650.8 190 649.7M189.8 650C204.2 649.8 215.8 650.4 230 650.2Q249.5 649.4 249.9 670C249.7 682 250.5 698 249.9 710Q250.3 730.3 229.9 730C212.6 729.2 207.4 729.8 189.7 730Q170.2 729.7 169.7 710.3C169.3 692.7 169.9 687.3 170.1 669.9Q169.4 650.3 190.2 650" fill="none" stroke="#1e1e1e" stroke-width="2.0" stroke-linecap="round" stroke-linejoin="round"/>
<path d="M269.6 649.9C280.8 651.3 299.2 648.8 309.8 650.3Q329.3 649.2 329.6 669.7C329.1 684.3 330.9 695.7 329.7 710.3Q329.9 729.7 309.6 729.7C292.2 731.1 287.8 730.7 270.2 730.4Q250.8 729.9 250.5 710.1C249.9 697.7 250.6 682.3 250.2 669.6Q249.4 650.9 269.6 650.3M269.9 649.8C282 649.9 298 650.9 309.8 650.2Q329.8 649.6 330.2 669.9C330.1 681.5 329.4 698.5 330.2 710Q329.4 730.3 310.1 730.3C292.4 730.3 287.6 729.4 270.2 729.9Q249.8 729.8 249.9 709.9C249.5 699.1 250.7 680.9 249.9 670.1Q250.5 650.3 269.8 650.3" fill="none" stroke="#1e1e1e" stroke-width="2.0" stroke-linecap="round" stroke-linejoin="round"/>
<path d="M350.3 650.5C365.8 650.7 374.2 650.9 389.8 650.2Q409.8 650.7 409.6 670C409.1 682.7 410.4 697.3 410.3 710.3Q410.8 729.3 390.4 730.2C374.6 729.6 365.4 731.2 350.4 730Q329.9 729.7 330.3 710.3C329.2 693 329.6 687 329.7 669.6Q329.7 649.1 350.3 649.7M349.7 649.7C365.9 649.5 374.1 649.9 389.9 650.2Q410.6 649.8 410.1 670.3C409.3 683.8 409.6 696.2 409.9 710.2Q410.1 729.5 390.1 730.2C375.9 730 364.1 730.1 350.2 730.1Q329.6 729.8 329.9 710.3C329.3 694.4 330.7 685.6 329.7 670.1Q329.9 650.3 350 649.7" fill="none" stroke="#1e1e1e" stroke-width="2.0" stroke-linecap="round" stroke-linejoin="round"/>
<path d="M430 650.3C446.3 649.6 453.7 649.2 470.2 650.3Q489.4 650.8 490.5 669.9C489.4 683 488.8 697 489.7 709.8Q489.7 730.5 469.7 730C456 729.5 444 731 430.5 730.5Q410.1 730.6 409.7 710.4C410.7 695.6 411 684.4 409.9 670.4Q409.4 649 430 650.4M430.3 650.3C444.1 650.8 455.9 650.1 469.8 650.1Q490.4 649.9 490.1 669.8C490.1 682.2 490 697.8 490 709.7Q489.4 729.8 470.1 730.2C458.1 730.4 441.9 730 429.8 730.1Q410.5 729.6 410.1 710.1C410.4 694 410.4 686 409.9 670.2Q410.5 649.4 430.3 650" fill="none" stroke="#1e1e1e" stroke-width="2.0" stroke-linecap="round" stroke-linejoin="round"/>
<path d="M509.6 649.6C526.4 650.5 533.6 649 550 650.1Q571 649.7 570.3 669.7C570.9 681.6 570.2 698.4 570.1 709.8Q569.3 729.4 549.6 729.7C537.5 730 522.5 730.9 510 729.9Q490.9 730 490.4 710C490.3 698.4 489 681.6 489.7 669.6Q490.4 650.9 509.9 649.9M510 649.9C525.5 649.8 534.5 649.4 550.2 650Q569.4 650.4 570.1 669.9C569.3 685 570.2 695 570 709.9Q570.1 730.2 550.2 730.3C538.8 730.2 521.2 729.4 510.2 730.1Q490.2 729.8 490.3 710C489.4 696.8 489.3 683.2 490.3 670.2Q489.4 649.8 510 650" fill="none" stroke="#1e1e1e" stroke-width="2.0" stroke-linecap="round" stroke-linejoin="round"/>
<path d="M589.9 650.4C602.8 650.1 617.2 651.2 630.1 650Q649.7 649.8 650.1 670.3C650.4 682.1 650.3 697.9 649.9 710.4Q650.1 729.6 629.8 730.3C618.7 729.5 601.3 731.3 589.7 729.6Q570.6 729.3 569.7 709.6C570.6 697.9 570.6 682.1 570.4 670.4Q570.1 650.8 589.6 650.4M590 649.8C606 650.6 614 649.8 629.7 650.2Q650.3 650.1 650.3 669.7C650.7 680.4 650.8 699.6 650.1 710.1Q649.5 729.6 629.8 730.1C614.6 729.2 605.4 730.2 590.3 730Q569.9 729.7 569.8 710.3C570.4 692 569.4 688 569.8 669.8Q569.8 650.3 589.7 650" fill="none" stroke="#1e1e1e" stroke-width="2.0" stroke-linecap="round" stroke-linejoin="round"/>
<path d="M670.2 649.5C683.5 650.8 696.5 650.2 710 650.4Q730.2 649.7 729.9 670.4C728.9 686.9 729.8 693.1 729.6 709.7Q729.8 730.4 709.5 730.3C693.7 730 686.3 731.4 670.3 729.9Q650.3 730.1 650.2 709.9C651.3 692.3 651.2 687.7 650.1 669.8Q649.8 649.5 670.4 650.3M670.2 650.2C687.9 650.3 692.1 649.7 710.2 649.8Q730.1 649.6 730.2 670C729.3 682.2 730.7 697.8 730.3 710.2Q729.6 730.3 710 730.3C695.3 730.1 684.7 729.2 669.7 730.2Q649.5 729.7 649.8 710.2C650.4 696.5 649.6 683.5 650.1 670.1Q649.5 650 670.1 649.8" fill="none" stroke="#1e1e1e" stroke-width="2.0" stroke-linecap="round" stroke-linejoin="round"/>
<path d="M370 230.5C369.9 250.3 369.2 271.1 369.3 291.4M369.5 229.8C369.4 252.7 369.2 275.6 369.3 291.5M368.9 291.3C366.2 283.2 362.9 275.3 360.5 268.9M369.1 291.6C367.1 286.9 365.3 281.9 360.3 268.5M368.8 291.8C371.2 286.3 373.2 281 378 269.1M369 291.5C372 284.1 374.7 277 378.3 268.8" fill="none" stroke="#1e1e1e" stroke-width="1.25" stroke-linecap="round" stroke-linejoin="round"/>
<path d="M210.9 408.8C210.6 421.4 210.1 433 209.6 450.6M210.4 409.3C210.3 421.3 210.3 433.8 210.3 450.9M209.9 450.6C208.3 445.9 206.7 441.5 203 431.4M210 450.8C207.9 444.6 205.8 438.6 203.1 431.3M210.3 450.3C211.5 445.7 213.5 440.6 216.9 431.6M210.2 450.7C212.5 444 214.6 437.7 217.4 431.3" fill="none" stroke="#1e1e1e" stroke-width="1.25" stroke-linecap="round" stroke-linejoin="round"/>
<path d="M370.5 408.3C369.8 420.3 370.5 432 370.5 450.3M370.4 408.9C370.2 424.3 370.2 440.6 369.8 450.7M370.1 450.9C368.6 446.1 366.6 440.9 362.8 431.5M369.9 450.5C367.7 444.5 365.7 438.8 362.9 431.3M370 450.3C371.9 444.5 374.3 438.7 376.9 431.6M370 450.5C371.9 445.7 373.6 441.2 377 431.4" fill="none" stroke="#1e1e1e" stroke-width="1.25" stroke-linecap="round" stroke-linejoin="round"/>
<path d="M531.5 409.1C531.6 419.2 531 429 531.5 450.3M531.9 409.7C531.4 418.9 531 428.3 531.2 450.7M531 450.5C529.2 446.3 528.1 441.6 524.1 431.4M531.1 450.4C529 445 527 439.3 524.4 431.4M530.8 450.5C533.1 445.4 534.7 440.1 538.4 431.8M531 450.5C533.9 443.3 536.8 435.8 538.5 431.6" fill="none" stroke="#1e1e1e" stroke-width="1.25" stroke-linecap="round" stroke-linejoin="round"/>
<path d="M610.7 409.2C610.9 420.8 610.6 434.1 610 450.4M610.4 409.2C610.4 417.9 610.4 426.9 610.5 450.3M610.6 450.4C609.2 446.6 607.1 442.1 603.6 431M610.7 450.5C609.2 446.7 607.7 442.6 603.6 431.4M610.5 450.6C613.1 443 616 435.7 617.3 431.2M610.6 450.5C612.6 444.7 614.8 439.1 617.6 431.3" fill="none" stroke="#1e1e1e" stroke-width="1.25" stroke-linecap="round" stroke-linejoin="round"/>
<path d="M689.5 410.3C690.1 422.3 690.1 434.2 689.9 450.4M689.7 409.8C689.5 420.8 689.9 431.3 690.1 450.7M689.7 450.9C688.2 445.9 686.7 441.1 682.7 431.5M690 450.6C688.3 446.4 686.9 442.3 683 431.7M690.3 450.4C691.7 444.9 694.2 439.8 696.6 431.7M690.1 450.6C692.4 443.5 695.1 436.1 696.8 431.4" fill="none" stroke="#1e1e1e" stroke-width="1.25" stroke-linecap="round" stroke-linejoin="round"/>
<path d="M371.2 569.8C371.7 582.4 371.2 595.5 369.6 631.4M371.6 570.2C371.5 590.6 370.7 611.6 369.9 631.7M370 631.7C367.5 625.5 365.5 619.1 361.8 607.7M369.9 632C366.6 622.3 363.4 613 361.5 608M369.9 631.8C373 625.3 376 618.1 379.7 608.7M370 632.2C372 626.8 374.3 621.4 379.7 608.3" fill="none" stroke="#1e1e1e" stroke-width="1.25" stroke-linecap="round" stroke-linejoin="round"/>
<path d="M168.8 182.2C168.3 182.6 165.9 183.7 165.6 184.6C165.3 185.5 165.4 186.8 166.8 187.6C168.2 188.4 168.5 189 174 189.4C179.5 189.8 191.1 189.8 200 189.9C208.9 190 222.9 190 227.5 190M169.2 182C168.5 182.5 165.5 184 165.2 185C164.9 186 165.6 187.3 167.2 188.2C168.8 189.1 169.5 190.1 175 190.6C180.5 191.1 191.3 191 200 191C208.7 191 222.8 190.5 227.3 190.4M227.8 189.8C220.3 187.4 213.1 183.8 203.9 180.2M227.4 190.1C219.7 186.8 211.9 183.4 204 179.9M227.5 190C218.2 192.8 209.6 196.3 204.3 197.9M227.5 189.9C222.3 191.6 217 193.6 204.3 197.7" fill="none" stroke="#2f9e44" stroke-width="1.3" stroke-linecap="round" stroke-linejoin="round"/>
<path d="M549.6 110.8C546.3 110.3 536.9 108.7 529.9 108C522.9 107.3 513.9 106.3 507.3 106.6C500.7 106.9 495.6 107.9 490.4 109.7C485.2 111.5 482.2 113.9 476.3 117.5C470.4 121.1 462.8 126.1 455.2 131.5C447.6 136.9 434.7 146.8 430.6 149.9M549.2 110.2C545.9 109.7 536.5 107.9 529.5 107.2C522.5 106.5 513.5 105.7 507 106C500.5 106.3 495.6 107.2 490.6 109C485.6 110.8 482.6 113 476.8 116.6C471 120.2 463.5 125.1 455.8 130.6C448.1 136.1 435 146.3 430.9 149.5M430.6 150.3C434.3 143.8 438.5 136.4 444.4 126.9M430.4 149.8C433.5 145.3 436.8 140.4 444.8 127.3M430.9 150.1C438.9 146.4 448.2 143.8 454.6 141.8M430.7 149.9C435.9 148.2 441.4 146.1 454.7 141.3" fill="none" stroke="#2f9e44" stroke-width="1.3" stroke-linecap="round" stroke-linejoin="round"/>
</svg>
</body></html>
